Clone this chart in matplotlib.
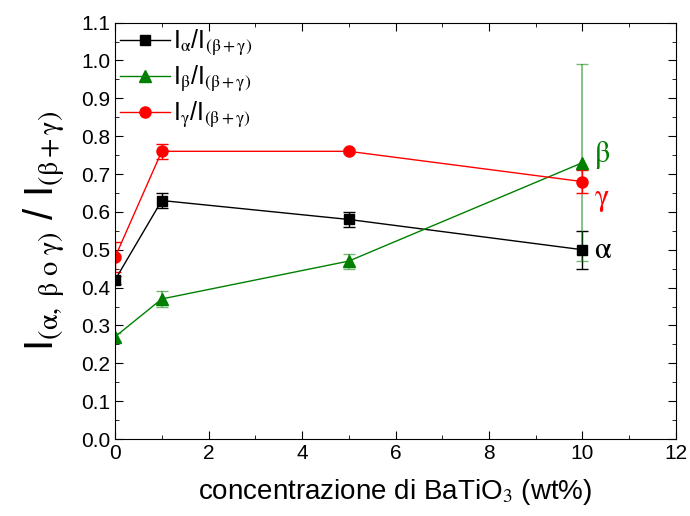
import matplotlib
matplotlib.use("Agg")
import matplotlib.pyplot as plt
from matplotlib.ticker import MultipleLocator

plt.rcParams['font.family'] = ['Liberation Sans', 'DejaVu Sans']
plt.rcParams['mathtext.fontset'] = 'stix'

x = [0, 1, 5, 10]
alpha_y = [0.42, 0.63, 0.58, 0.50]
alpha_e = [0.01, 0.02, 0.02, 0.05]
beta_y = [0.27, 0.37, 0.47, 0.73]
beta_e = [0.01, 0.02, 0.02, 0.26]
gamma_y = [0.48, 0.76, 0.76, 0.68]
gamma_e = [0.04, 0.02, 0.005, 0.03]

fig = plt.figure(figsize=(6.9, 5.16), dpi=100)
ax = fig.add_axes([0.1667, 0.1492, 0.813, 0.807])

ax.errorbar(x, alpha_y, yerr=alpha_e, fmt='none', ecolor='black', capsize=4, elinewidth=1)
ax.errorbar(x, beta_y, yerr=beta_e, fmt='none', ecolor=(0.0, 0.5, 0.0, 0.55), capsize=4, elinewidth=1.2)
ax.errorbar(x, gamma_y, yerr=gamma_e, fmt='none', ecolor='red', capsize=4, elinewidth=1)

ax.plot(x, alpha_y, color='black', marker='s', ms=7, lw=1,
        label=r'I$_{\mathrm{\alpha}}$/I$_{\mathrm{(\beta+\gamma)}}$')
ax.plot(x, beta_y, color='green', marker='^', ms=9, lw=1,
        label=r'I$_{\mathrm{\beta}}$/I$_{\mathrm{(\beta+\gamma)}}$')
ax.plot(x, gamma_y, color='red', marker='o', ms=8, lw=1,
        label=r'I$_{\mathrm{\gamma}}$/I$_{\mathrm{(\beta+\gamma)}}$')

greek_font = dict(fontsize=22, va='center')
ax.text(10.25, 0.75, r'$\mathrm{\beta}$', color='green', **greek_font)
ax.text(10.25, 0.635, r'$\mathrm{\gamma}$', color='red', **greek_font)
ax.text(10.25, 0.50, r'$\mathrm{\alpha}$', color='black', **greek_font)

ax.set_xlim(0, 12)
ax.set_ylim(0, 1.1)
ax.xaxis.set_major_locator(MultipleLocator(2))
ax.xaxis.set_minor_locator(MultipleLocator(1))
ax.yaxis.set_major_locator(MultipleLocator(0.1))
ax.yaxis.set_minor_locator(MultipleLocator(0.05))
ax.tick_params(which='both', direction='in', top=True, right=True, labelsize=15)
ax.tick_params(which='major', length=6)
ax.tick_params(which='minor', length=3)
ax.set_yticklabels([f'{v:.1f}' for v in ax.get_yticks()])

ax.set_xlabel(r'concentrazione di BaTiO$_{3}$ (wt%)', fontsize=20, labelpad=10)
ax.set_ylabel(r'I$_{\mathrm{(\alpha,\ \beta\ o\ \gamma)}}$ / I$_{\mathrm{(\beta+\gamma)}}$',
              fontsize=29, labelpad=10)

leg = ax.legend(loc='upper left', frameon=False, fontsize=18, handlelength=2.0,
                borderaxespad=0.1, labelspacing=0.25, handletextpad=0.1,
                borderpad=0.1)

fig.savefig('out.png', dpi=100)
